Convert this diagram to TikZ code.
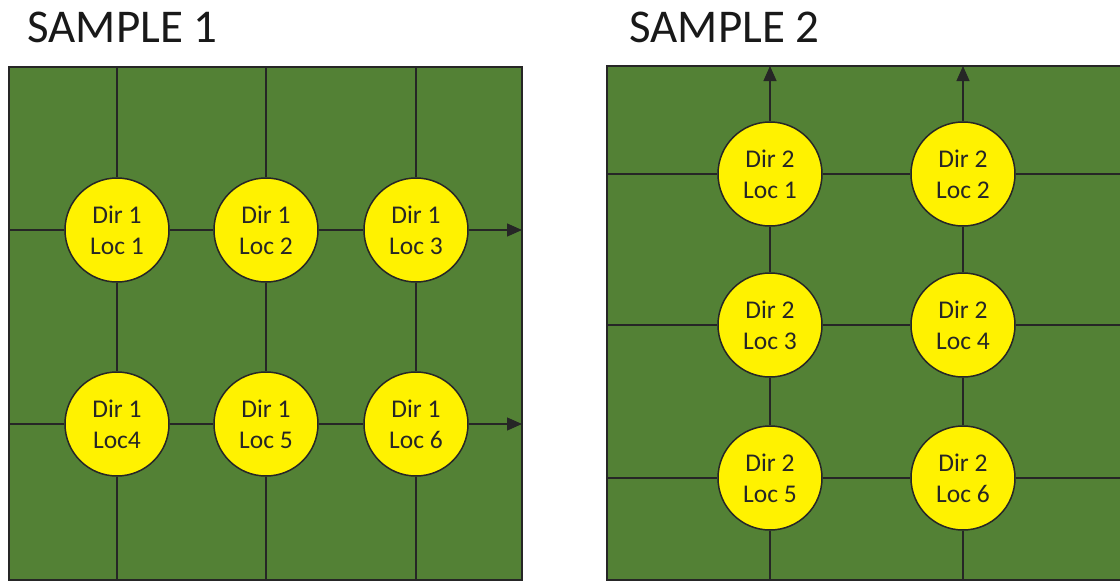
\documentclass[tikz,border=0pt]{standalone}
\usepackage{fontspec}
\setmainfont{Carlito}
\usetikzlibrary{arrows.meta}
\definecolor{field}{HTML}{538135}
\tikzset{
  loc/.style={circle, draw=black!85, line width=1.5pt, fill=yellow,
    minimum size=104pt, inner sep=0pt, align=center, text=black!85,
    font=\fontsize{25.5}{31}\selectfont},
  grid/.style={draw=black!85, line width=1.3pt},
  tip/.style={-{Triangle[length=15pt,width=13pt]}},
  title/.style={anchor=base west, text=black!90,
    font=\fontsize{47}{50}\selectfont}
}
\begin{document}
\begin{tikzpicture}[x=1pt,y=-1pt]
  \useasboundingbox (0,0) rectangle (1120,582);
  % sample 1
  \node[title] (t1) at (24,42) {SAMPLE 1};
  \filldraw[grid, fill=field] (9,67) rectangle (522,580);
  \node[loc] (a1) at (117,230) {Dir 1\\Loc 1};
  \node[loc] (a2) at (266,230) {Dir 1\\Loc 2};
  \node[loc] (a3) at (416,230) {Dir 1\\Loc 3};
  \node[loc] (a4) at (117,424) {Dir 1\\Loc4};
  \node[loc] (a5) at (266,424) {Dir 1\\Loc 5};
  \node[loc] (a6) at (416,424) {Dir 1\\Loc 6};
  \foreach \n/\x in {1/117, 2/266, 3/416} {
    \coordinate (at\n) at (\x,67);
    \coordinate (ab\n) at (\x,580);
  }
  \coordinate (al1) at (9,230);  \coordinate (ar1) at (522,230);
  \coordinate (al2) at (9,424);  \coordinate (ar2) at (522,424);
  \draw[grid] (at1) -- (a1) (a1) -- (a4) (a4) -- (ab1);
  \draw[grid] (at2) -- (a2) (a2) -- (a5) (a5) -- (ab2);
  \draw[grid] (at3) -- (a3) (a3) -- (a6) (a6) -- (ab3);
  \draw[grid] (al1) -- (a1) (a1) -- (a2) (a2) -- (a3);
  \draw[grid] (al2) -- (a4) (a4) -- (a5) (a5) -- (a6);
  \draw[grid, tip] (a3) -- (ar1);
  \draw[grid, tip] (a6) -- (ar2);
  % sample 2
  \node[title] (t2) at (626,42) {SAMPLE 2};
  \filldraw[grid, fill=field] (607,66) rectangle (1130,580);
  \node[loc] (b1) at (770,174) {Dir 2\\Loc 1};
  \node[loc] (b2) at (963,174) {Dir 2\\Loc 2};
  \node[loc] (b3) at (770,325) {Dir 2\\Loc 3};
  \node[loc] (b4) at (963,325) {Dir 2\\Loc 4};
  \node[loc] (b5) at (770,478) {Dir 2\\Loc 5};
  \node[loc] (b6) at (963,478) {Dir 2\\Loc 6};
  \foreach \n/\y in {1/174, 2/325, 3/478} {
    \coordinate (bl\n) at (607,\y);
    \coordinate (br\n) at (1120,\y);
  }
  \coordinate (bt1) at (770,66);  \coordinate (bb1) at (770,580);
  \coordinate (bt2) at (963,66);  \coordinate (bb2) at (963,580);
  \draw[grid] (bl1) -- (b1) (b1) -- (b2) (b2) -- (br1);
  \draw[grid] (bl2) -- (b3) (b3) -- (b4) (b4) -- (br2);
  \draw[grid] (bl3) -- (b5) (b5) -- (b6) (b6) -- (br3);
  \draw[grid] (bb1) -- (b5) (b5) -- (b3) (b3) -- (b1);
  \draw[grid] (bb2) -- (b6) (b6) -- (b4) (b4) -- (b2);
  \draw[grid, tip] (b1) -- (bt1);
  \draw[grid, tip] (b2) -- (bt2);
\end{tikzpicture}
\end{document}
